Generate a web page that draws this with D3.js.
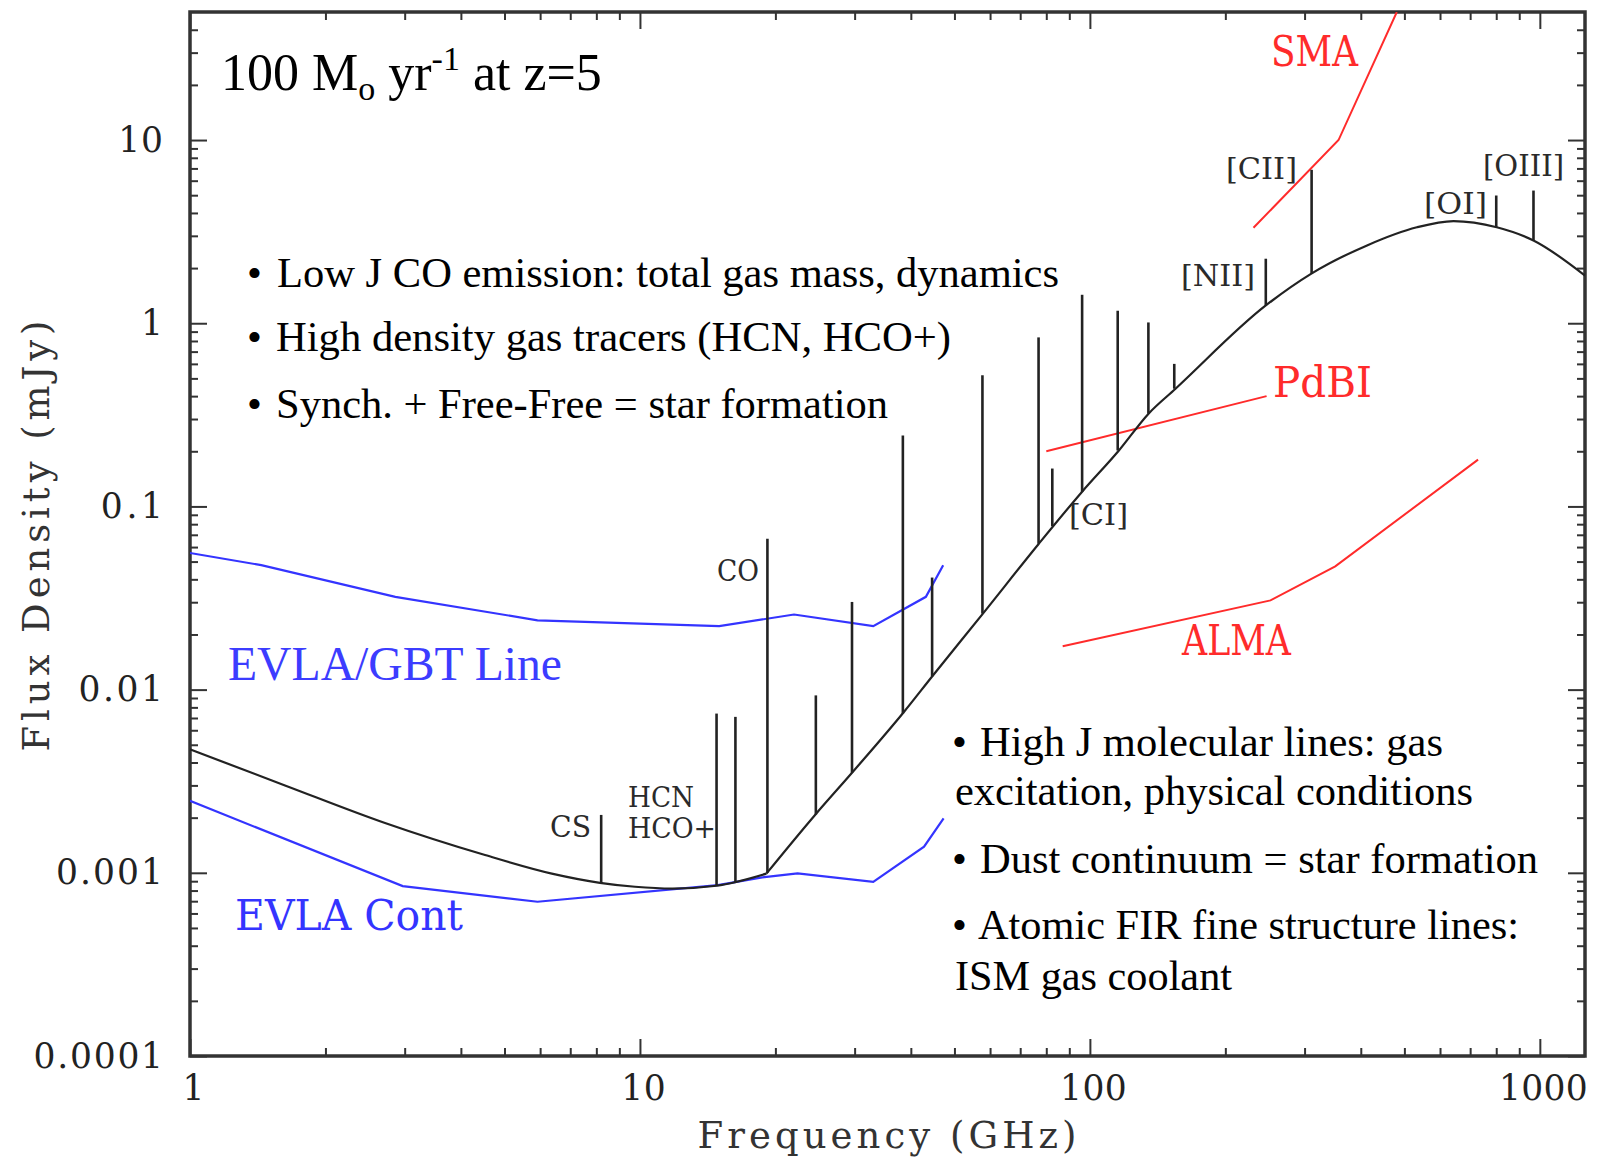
<!DOCTYPE html>
<html>
<head>
<meta charset="utf-8">
<script src="https://cdn.jsdelivr.net/npm/d3@7"></script>
<style>
  body { margin: 0; background: #fff; }
  svg { display: block; }
</style>
</head>
<body>
<svg id="chart" width="1597" height="1162"></svg>
<script>
// ---- axis ranges and tick labels ----
const freqDomain = [1, 1260];            // GHz
const fluxDomain = [1e-4, 50];           // mJy
const xTickValues = [1, 10, 100, 1000];
const xTickLabels = ["1", "10", "100", "1000"];
const yTickValues = [1e-4, 1e-3, 1e-2, 0.1, 1, 10];
const yTickLabels = ["0.0001", "0.001", "0.01", "0.1", "1", "10"];

// ---- continuum SED of a 100 Msun/yr galaxy at z=5 (GHz, mJy) ----
// radio part (synchrotron + free-free) down to the turnover near 19 GHz
const sedRadioFreq = [1, 1.626, 2.713, 4.526, 6.37, 8.15, 9.75, 11.8, 14.8, 19.1];
const sedRadioFlux = [0.00472, 0.0030, 0.00187, 0.00125, 0.00099, 0.000882, 0.000839, 0.00082, 0.00085, 0.00099];
// dust part from the turnover up to the far-infrared peak and beyond
const sedDustFreq = [19.1, 24.5, 29.7, 38.6, 44.6, 58.2, 77, 96, 116, 135, 155, 246, 310, 413, 533, 643, 802, 968, 1260];
const sedDustFlux = [0.00099, 0.00207, 0.00355, 0.00755, 0.0118, 0.0265, 0.0626, 0.12, 0.202, 0.321, 0.439, 1.25, 1.86, 2.66, 3.34, 3.61, 3.34, 2.83, 1.82];

// ---- emission lines: frequency, continuum level at the line, line peak ----
const lineFreq = [8.2, 14.8, 16.3, 19.2, 24.6, 29.6, 38.4, 44.6, 57.7, 76.9, 82.5, 96.1, 115.3, 134.9, 154, 246, 311, 800, 968];
const lineBase = [0.00088, 0.00085, 0.00088, 0.001, 0.00208, 0.00352, 0.0074, 0.0118, 0.026, 0.0626, 0.078, 0.12, 0.202, 0.321, 0.439, 1.25, 1.86, 3.34, 2.83];
const linePeak = [0.00207, 0.0074, 0.0071, 0.0667, 0.0093, 0.0301, 0.244, 0.0409, 0.52, 0.837, 0.161, 1.43, 1.17, 1.01, 0.60, 2.25, 6.88, 4.98, 5.30];

// ---- sensitivity curves (GHz, mJy) ----
const evlaLineFreq = [1, 1.44, 2.86, 5.92, 15, 22, 33, 43.2, 47.2];
const evlaLineFlux = [0.0557, 0.0478, 0.0321, 0.0239, 0.0222, 0.0257, 0.0222, 0.0321, 0.0478];
const evlaContFreq = [1, 2.97, 5.92, 14.9, 18.7, 22.4, 33, 42.8, 47.3];
const evlaContFlux = [0.00247, 0.000846, 0.000695, 0.000857, 0.000944, 0.000992, 0.000893, 0.00139, 0.00198];
const smaFreq = [231, 357, 481];
const smaFlux = [3.32, 10.0, 50];
const pdbiFreq = [80, 247];
const pdbiFlux = [0.20, 0.40];
const almaFreq = [87, 252, 351, 729];
const almaFlux = [0.01725, 0.0307, 0.0471, 0.18];

// ---- text ----
const lineLabels = ["CS", "HCN", "HCO+", "CO", "[CI]", "[NII]", "[CII]", "[OI]", "[OIII]"];
const leftNotes = [
  "Low J CO emission: total gas mass, dynamics",
  "High density gas tracers (HCN, HCO+)",
  "Synch. + Free-Free = star formation"
];
const rightNotes = [
  "High J molecular lines: gas",
  "excitation, physical conditions",
  "Dust continuum = star formation",
  "Atomic FIR fine structure lines:",
  "ISM gas coolant"
];

// ---------------------------------------------------------------
const svg = d3.select("#chart");
const plot = { left: 190, right: 1585, top: 12, bottom: 1056 };
const x = d3.scaleLog().domain(freqDomain).range([plot.left, plot.right]);
const y = d3.scaleLog().domain(fluxDomain).range([plot.bottom, plot.top]);

const pgFont = "'DejaVu Serif', serif";
const timesFont = "'Liberation Serif', 'Times New Roman', serif";
const ink = "#222";
const blue = "#3434ff";
const red = "#ff2b2b";

svg.append("rect").attr("width", 1597).attr("height", 1162).attr("fill", "#fff");

svg.append("defs").append("clipPath").attr("id", "plotClip")
  .append("rect")
  .attr("x", plot.left).attr("y", plot.top)
  .attr("width", plot.right - plot.left).attr("height", plot.bottom - plot.top);

// minor tick positions (2..9 in each decade)
const xMinor = [];
for (let e = 0; e <= 3; e++) for (let m = 2; m <= 9; m++) {
  const v = m * Math.pow(10, e);
  if (v < freqDomain[1]) xMinor.push(v);
}
const yMinor = [];
for (let e = -4; e <= 1; e++) for (let m = 2; m <= 9; m++) {
  const v = m * Math.pow(10, e);
  if (v < fluxDomain[1]) yMinor.push(v);
}

const majorLen = 17, minorLen = 8;
function styleAxis(g) {
  g.select(".domain").remove();
  g.selectAll(".tick line").attr("stroke", "#333").attr("stroke-width", 2);
}

// bottom axis with labels
const gBottom = svg.append("g").attr("transform", `translate(0,${plot.bottom})`)
  .call(d3.axisBottom(x).tickValues(xTickValues).tickSize(-majorLen).tickPadding(20)
    .tickFormat((d, i) => xTickLabels[i]))
  .call(styleAxis);
gBottom.selectAll(".tick text")
  .attr("font-family", pgFont).attr("font-size", 34.5).attr("fill", ink).attr("dx", 3)
  .attr("textLength", (d, i) => xTickLabels[i].length * 22.2)
  .attr("lengthAdjust", "spacing");
svg.append("g").attr("transform", `translate(0,${plot.bottom})`)
  .call(d3.axisBottom(x).tickValues(xMinor).tickSize(-minorLen).tickFormat(""))
  .call(styleAxis);

// top mirror ticks
svg.append("g").attr("transform", `translate(0,${plot.top})`)
  .call(d3.axisTop(x).tickValues(xTickValues).tickSize(-majorLen).tickFormat(""))
  .call(styleAxis);
svg.append("g").attr("transform", `translate(0,${plot.top})`)
  .call(d3.axisTop(x).tickValues(xMinor).tickSize(-minorLen).tickFormat(""))
  .call(styleAxis);

// left axis with labels
const gLeft = svg.append("g").attr("transform", `translate(${plot.left},0)`)
  .call(d3.axisLeft(y).tickValues(yTickValues).tickSize(-majorLen).tickPadding(27)
    .tickFormat((d, i) => yTickLabels[i]))
  .call(styleAxis);
gLeft.selectAll(".tick text")
  .attr("font-family", pgFont).attr("font-size", 34.5).attr("fill", ink)
  .attr("textLength", (d, i) => {
    const s = yTickLabels[i];
    const dots = (s.match(/\./g) || []).length;
    return (s.length - dots) * 22.4 + dots * 17.4;
  })
  .attr("lengthAdjust", "spacing");
svg.append("g").attr("transform", `translate(${plot.left},0)`)
  .call(d3.axisLeft(y).tickValues(yMinor).tickSize(-minorLen).tickFormat(""))
  .call(styleAxis);

// right mirror ticks
svg.append("g").attr("transform", `translate(${plot.right},0)`)
  .call(d3.axisRight(y).tickValues(yTickValues).tickSize(-majorLen).tickFormat(""))
  .call(styleAxis);
svg.append("g").attr("transform", `translate(${plot.right},0)`)
  .call(d3.axisRight(y).tickValues(yMinor).tickSize(-minorLen).tickFormat(""))
  .call(styleAxis);

// frame
svg.append("rect")
  .attr("x", plot.left).attr("y", plot.top)
  .attr("width", plot.right - plot.left).attr("height", plot.bottom - plot.top)
  .attr("fill", "none").attr("stroke", "#333").attr("stroke-width", 3.5);

// axis titles
svg.append("text")
  .attr("x", (plot.left + plot.right) / 2 - 0.5).attr("y", 1148)
  .attr("text-anchor", "middle")
  .attr("font-family", pgFont).attr("font-size", 37).attr("fill", "#333")
  .attr("textLength", 379).attr("lengthAdjust", "spacing")
  .text("Frequency (GHz)");
svg.append("text")
  .attr("transform", "translate(49,536) rotate(-90)")
  .attr("text-anchor", "middle")
  .attr("font-family", pgFont).attr("font-size", 37).attr("fill", "#333")
  .attr("textLength", 431).attr("lengthAdjust", "spacing")
  .text("Flux Density (mJy)");

// ---- curves ----
const g = svg.append("g").attr("clip-path", "url(#plotClip)");
const zip = (fs, vs) => fs.map((f, i) => [f, vs[i]]);
const straight = d3.line().x(d => x(d[0])).y(d => y(d[1]));
const smooth = d3.line().x(d => x(d[0])).y(d => y(d[1])).curve(d3.curveMonotoneX);

g.append("path").datum(zip(evlaLineFreq, evlaLineFlux))
  .attr("d", straight).attr("fill", "none").attr("stroke", blue).attr("stroke-width", 2.2);
g.append("path").datum(zip(evlaContFreq, evlaContFlux))
  .attr("d", straight).attr("fill", "none").attr("stroke", blue).attr("stroke-width", 2.2);

[[smaFreq, smaFlux], [pdbiFreq, pdbiFlux], [almaFreq, almaFlux]].forEach(([f, v]) => {
  g.append("path").datum(zip(f, v))
    .attr("d", straight).attr("fill", "none").attr("stroke", red).attr("stroke-width", 2);
});

// continuum: two smooth pieces meeting at the turnover corner
[[sedRadioFreq, sedRadioFlux], [sedDustFreq, sedDustFlux]].forEach(([f, v]) => {
  g.append("path").datum(zip(f, v))
    .attr("d", smooth).attr("fill", "none").attr("stroke", ink).attr("stroke-width", 2.2)
    .attr("stroke-linejoin", "round");
});

g.selectAll("line.emission").data(lineFreq).join("line")
  .attr("class", "emission")
  .attr("x1", d => x(d)).attr("x2", d => x(d))
  .attr("y1", (d, i) => y(lineBase[i])).attr("y2", (d, i) => y(linePeak[i]))
  .attr("stroke", ink).attr("stroke-width", 2.6);

// ---- line identifications ----
const labelSpecs = [
  { x: 550, y: 837, w: 41, s: 30 },
  { x: 628, y: 807, w: 66, s: 27 },
  { x: 628, y: 838, w: 88, s: 27 },
  { x: 717, y: 581, w: 42, s: 30 },
  { x: 1069, y: 525, w: 59, s: 30 },
  { x: 1181, y: 286, w: 74, s: 30 },
  { x: 1226, y: 179, w: 71, s: 30 },
  { x: 1424, y: 214, w: 63, s: 30 },
  { x: 1483, y: 176, w: 81, s: 30 }
];
svg.selectAll("text.lineid").data(lineLabels).join("text")
  .attr("class", "lineid")
  .attr("x", (d, i) => labelSpecs[i].x).attr("y", (d, i) => labelSpecs[i].y)
  .attr("textLength", (d, i) => labelSpecs[i].w).attr("lengthAdjust", "spacingAndGlyphs")
  .attr("font-family", pgFont).attr("font-size", (d, i) => labelSpecs[i].s).attr("fill", "#2a2a2a")
  .text(d => d);

// ---- instrument labels ----
const instLabels = [
  { t: "SMA", x: 1271, y: 66, w: 87, c: red },
  { t: "PdBI", x: 1273, y: 397, w: 99, c: red },
  { t: "ALMA", x: 1182, y: 655, w: 109, c: red },
  { t: "EVLA Cont", x: 235, y: 930, w: 228, c: blue }
];
instLabels.forEach(l => {
  svg.append("text").attr("x", l.x).attr("y", l.y)
    .attr("font-family", pgFont).attr("font-size", 42).attr("fill", l.c)
    .attr("textLength", l.w).attr("lengthAdjust", "spacingAndGlyphs")
    .text(l.t);
});
svg.append("text").attr("x", 228).attr("y", 680)
  .attr("font-family", timesFont).attr("font-size", 47.5).attr("fill", "#3c3cff")
  .attr("textLength", 334).attr("lengthAdjust", "spacingAndGlyphs")
  .text("EVLA/GBT Line");

// ---- title: 100 M_o yr^-1 at z=5 ----
const title = svg.append("text").attr("x", 221).attr("y", 90)
  .attr("font-family", timesFont).attr("font-size", 52).attr("fill", "#000");
title.append("tspan").text("100 M");
title.append("tspan").attr("font-size", 34).attr("dy", 10).text("o");
title.append("tspan").attr("dy", -10).text(" yr");
title.append("tspan").attr("font-size", 34).attr("dy", -20).text("-1");
title.append("tspan").attr("dy", 20).text(" at z=5");

// ---- bulleted notes ----
const noteSize = 42.5;
const leftRows = [
  { x: 277, y: 287, w: 782 },
  { x: 276, y: 351, w: 675 },
  { x: 276, y: 418, w: 612 }
];
leftNotes.forEach((t, i) => {
  const r = leftRows[i];
  svg.append("text").attr("x", 247).attr("y", r.y)
    .attr("font-family", timesFont).attr("font-size", noteSize).text("\u2022");
  svg.append("text").attr("x", r.x).attr("y", r.y)
    .attr("font-family", timesFont).attr("font-size", noteSize)
    .attr("textLength", r.w).attr("lengthAdjust", "spacingAndGlyphs").text(t);
});
const rightRows = [
  { b: true, x: 980, y: 756, w: 463 },
  { b: false, x: 955, y: 805, w: 518 },
  { b: true, x: 980, y: 873, w: 558 },
  { b: true, x: 978, y: 939, w: 541 },
  { b: false, x: 955, y: 990, w: 277 }
];
rightNotes.forEach((t, i) => {
  const r = rightRows[i];
  if (r.b) {
    svg.append("text").attr("x", 952).attr("y", r.y)
      .attr("font-family", timesFont).attr("font-size", noteSize).text("\u2022");
  }
  svg.append("text").attr("x", r.x).attr("y", r.y)
    .attr("font-family", timesFont).attr("font-size", noteSize)
    .attr("textLength", r.w).attr("lengthAdjust", "spacingAndGlyphs").text(t);
});
</script>
</body>
</html>
